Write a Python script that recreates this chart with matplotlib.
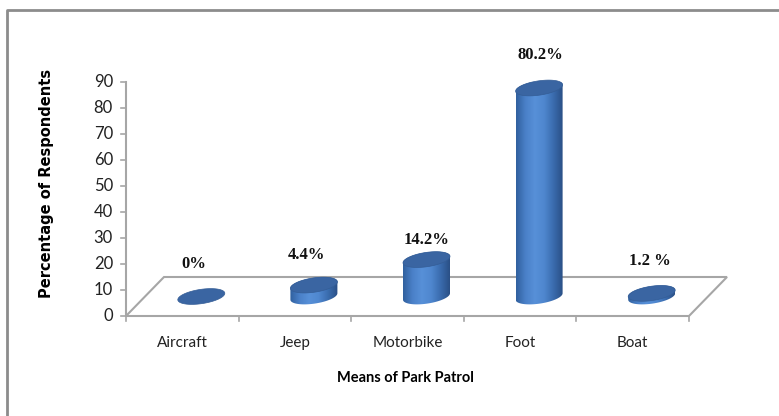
import numpy as np
import matplotlib
matplotlib.use("Agg")
import matplotlib.pyplot as plt
from matplotlib.patches import Polygon
from matplotlib.colors import LinearSegmentedColormap
from matplotlib.lines import Line2D

# ---- data ----
categories = ["Aircraft", "Jeep", "Motorbike", "Foot", "Boat"]
values = [0, 4.4, 14.2, 80.2, 1.2]
value_labels = ["0%", "4.4%", "14.2%", "80.2%", "1.2 %"]
yticks = [0, 10, 20, 30, 40, 50, 60, 70, 80, 90]

# ---- layout (pixels) ----
W, H = 779, 416
ax_left, ax_right, ax_bottom, ax_top = 126, 689, 316, 82
depth_dx_px, depth_dy_px = 38, 39
cyl_w_px, ell_b_px, ell_tilt_px = 47, 7.2, 3.2
label_off_px = [(-7, 32), (-7, 30), (0, 20), (1, 33), (-2, 32)]

fig = plt.figure(figsize=(W / 100, H / 100), dpi=100)
ax = fig.add_axes([ax_left / W, 1 - ax_bottom / H, (ax_right - ax_left) / W, (ax_bottom - ax_top) / H])
n = len(categories)
ax.set_xlim(-0.5, n - 0.5)
ax.set_ylim(0, 90)
ax.axis("off")

pxx = (ax_right - ax_left) / n       # px per x unit
pxy = (ax_bottom - ax_top) / 90.0    # px per y unit
ddx = depth_dx_px / pxx
ddy = depth_dy_px / pxy
grey = "#a6a6a6"
narrow = ["Lato", "DejaVu Sans"]

# floor parallelogram
floor = Polygon([(-0.5, 0), (n - 0.5, 0), (n - 0.5 + ddx, ddy), (-0.5 + ddx, ddy)],
                closed=True, fill=False, edgecolor=grey, lw=1.5, clip_on=False, zorder=1)
ax.add_patch(floor)
# y axis line and ticks
ax.add_line(Line2D([-0.5, -0.5], [0, 90], color=grey, lw=1.5, clip_on=False))
tick_len_x = 5 / pxx
tick_len_y = 5 / pxy
for t in yticks:
    ax.add_line(Line2D([-0.5 - tick_len_x, -0.5], [t, t], color=grey, lw=1.2, clip_on=False))
    ax.text(-0.5 - 13 / pxx, t, str(t), ha="right", va="center", fontsize=12,
            family=narrow, color="#222222")
for i in range(n + 1):
    ax.add_line(Line2D([i - 0.5, i - 0.5], [0, -tick_len_y], color=grey, lw=1.2, clip_on=False))
for i, c in enumerate(categories):
    ax.text(i, -27 / pxy, c, ha="center", va="center", fontsize=11,
            family=narrow, color="#222222")

# cylinders
a = cyl_w_px / 2 / pxx
b = ell_b_px / pxy
k = ell_tilt_px / pxy
cmap = LinearSegmentedColormap.from_list("cyl", ["#30609e", "#4a80c8", "#5790d8", "#4f87cf", "#3a6cae", "#2a4f86"])
grad = np.linspace(0, 1, 200).reshape(1, -1)

def ell_pts(cx, cy, t):
    return np.column_stack([cx + a * np.cos(t), cy + b * np.sin(t) + k * np.cos(t)])

for i, v in enumerate(values):
    cx = i + ddx / 2
    base = ddy / 2
    top = base + v
    if v > 0:
        lower = ell_pts(cx, base, np.linspace(np.pi, 2 * np.pi, 60))
        upper = ell_pts(cx, top, np.linspace(0, np.pi, 60))
        body = Polygon(np.vstack([lower, upper]), closed=True, facecolor="none", edgecolor="none",
                       clip_on=False)
        ax.add_patch(body)
        im = ax.imshow(cmap(grad), extent=[cx - a, cx + a, base - b - k, top + b + k],
                       aspect="auto", zorder=2, interpolation="bilinear")
        im.set_clip_path(body)
    topell = Polygon(ell_pts(cx, top, np.linspace(0, 2 * np.pi, 100)), closed=True,
                     facecolor="#3a65a2", edgecolor="#345d96", lw=0.5, zorder=3, clip_on=False)
    ax.add_patch(topell)
    dx, dy = label_off_px[i]
    ax.text(cx + dx / pxx, top + dy / pxy, value_labels[i], ha="center", va="center",
            fontsize=12, fontweight="bold", family=["Liberation Serif", "DejaVu Serif"], color="#111111")

ax.set_xlim(-0.5, n - 0.5)
ax.set_ylim(0, 90)

# axis titles
fig.text(47 / W, 1 - 183 / H, "Percentage of Respondents", rotation=90, ha="center", va="center",
         fontsize=10.5, fontweight="bold", family=["DejaVu Sans"])
fig.text(405 / W, 1 - 378 / H, "Means of Park Patrol", ha="center", va="center",
         fontsize=10.5, fontweight="bold", family=narrow)

# outer chart border (partially cropped)
fig.add_artist(Line2D([6.5 / W, 6.5 / W, 1.0], [0.0, 1 - 10 / H, 1 - 10 / H], transform=fig.transFigure,
                      color="#8c8c8c", lw=2))

fig.savefig("out.png", dpi=100)
